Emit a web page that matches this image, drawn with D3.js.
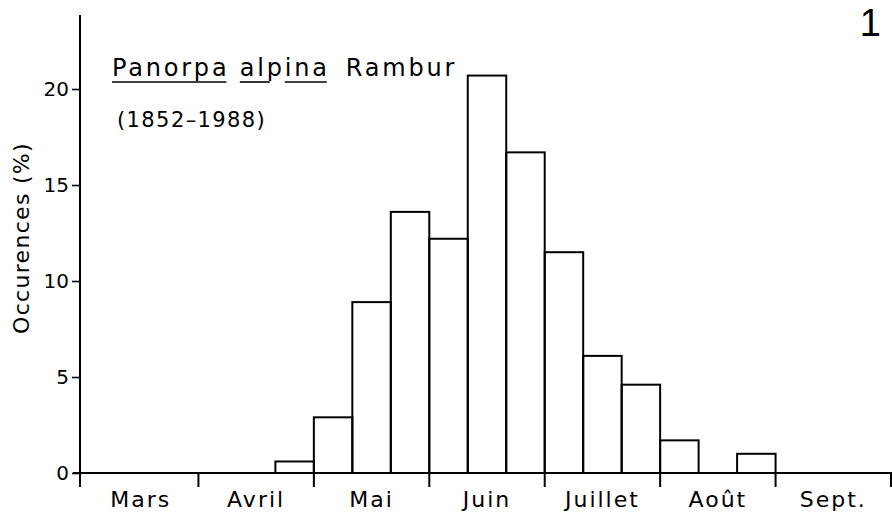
<!DOCTYPE html>
<html>
<head>
<meta charset="utf-8">
<script src="https://cdn.jsdelivr.net/npm/d3@7"></script>
<style>
  html, body { margin: 0; padding: 0; background: #fff; }
  svg { display: block; }
  text { font-family: "DejaVu Sans", sans-serif; fill: #000; }
</style>
</head>
<body>
<svg id="chart" width="892" height="513"></svg>
<script>
// ---- data ----
const months = ["Mars", "Avril", "Mai", "Juin", "Juillet", "Août", "Sept."];
const decades = ["1", "2", "3"];
const values = [
  0, 0, 0,        // Mars
  0, 0, 0.6,      // Avril
  2.9, 8.9, 13.6, // Mai
  12.2, 20.7, 16.7, // Juin
  11.5, 6.1, 4.6, // Juillet
  1.7, 0, 1.0,    // Août
  0, 0, 0         // Sept.
];
const yTicks = [0, 5, 10, 15, 20];
const titleSpecies = "Panorpa alpina";
const titleAuthor = "Rambur";
const subtitle = "(1852–1988)";
const yLabel = "Occurences (%)";
const figNumber = "1";

// ---- layout ----
const svg = d3.select("#chart");
const x0 = 83, x1 = 891, yBase = 473;

const bins = [];
months.forEach(m => decades.forEach(d => bins.push(m + "-" + d)));
const data = bins.map((b, i) => ({ bin: b, value: values[i] }));

const xBin = d3.scaleBand().domain(bins).range([x0, x1]).padding(0);
const xMonth = d3.scaleBand().domain(months).range([x0, x1]).padding(0);
const y = d3.scaleLinear().domain([0, 20]).range([yBase, 89]);

const stroke = "#000";
const sw = 2;

// bars
svg.append("g").selectAll("rect")
  .data(data.filter(d => d.value > 0))
  .join("rect")
  .attr("x", d => xBin(d.bin))
  .attr("y", d => y(d.value))
  .attr("width", xBin.bandwidth())
  .attr("height", d => y(0) - y(d.value))
  .attr("fill", "none")
  .attr("stroke", stroke)
  .attr("stroke-width", sw);

// y axis
const yAxis = d3.axisLeft(y).tickValues(yTicks).tickSize(8).tickPadding(3).tickFormat(d3.format("d"));
const gy = svg.append("g").attr("transform", `translate(${x0 - 3},0)`).call(yAxis);
gy.select(".domain").remove();
gy.selectAll(".tick line").attr("stroke", stroke).attr("stroke-width", 1.6);
gy.selectAll(".tick text").attr("font-size", 20).attr("fill", "#000").attr("dy", "0.34em");
svg.append("line").attr("x1", x0 - 3).attr("x2", x0 - 3).attr("y1", 15).attr("y2", yBase + 14)
  .attr("stroke", stroke).attr("stroke-width", 2);

// x axis line
svg.append("line").attr("x1", x0 - 10).attr("x2", x1).attr("y1", yBase).attr("y2", yBase)
  .attr("stroke", stroke).attr("stroke-width", 2);

// month boundary ticks
const bounds = months.map(m => xMonth(m)).concat([xMonth(months[months.length - 1]) + xMonth.bandwidth()]).slice(1);
svg.append("g").selectAll("line").data(bounds).join("line")
  .attr("x1", d => d).attr("x2", d => d)
  .attr("y1", yBase - 1).attr("y2", yBase + 14)
  .attr("stroke", stroke).attr("stroke-width", 2);

// month labels
const xAxis = d3.axisBottom(xMonth).tickSize(0).tickPadding(0);
const gx = svg.append("g").attr("transform", `translate(0,${yBase})`).call(xAxis);
gx.select(".domain").remove();
gx.selectAll(".tick text").attr("font-size", 22).attr("fill", "#000")
  .attr("y", 34).attr("dy", 0).style("letter-spacing", "2px");

// y label
svg.append("text")
  .attr("transform", `translate(29,238) rotate(-90)`)
  .attr("text-anchor", "middle")
  .attr("font-size", 22)
  .style("letter-spacing", "1.3px")
  .text(yLabel);

// title
const title = svg.append("text").attr("x", 112).attr("y", 76).attr("font-size", 24)
  .style("letter-spacing", "2.8px");
title.append("tspan").text(titleSpecies);
title.append("tspan").attr("dx", 16).text(titleAuthor);

// underline species name (broken at the descender of "p" in alpina)
const tnode = title.node();
function charX(i) { return tnode.getStartPositionOfChar(i).x; }
function charEnd(i) { return tnode.getEndPositionOfChar(i).x; }
const sp = titleSpecies;
const words = [];
words.push([0, sp.indexOf(" ") - 1]);
const aStart = sp.indexOf(" ") + 1;
const pIdx = sp.indexOf("p", aStart);
words.push([aStart, pIdx]);
words.push([pIdx + 1, sp.length - 1]);
svg.append("g").selectAll("line").data(words).join("line")
  .attr("x1", d => charX(d[0]))
  .attr("x2", (d, i) => i === 1 ? charX(d[1]) + 3 : charEnd(d[1]) - 3)
  .attr("y1", 82).attr("y2", 82)
  .attr("stroke", stroke).attr("stroke-width", 1.6);

svg.append("text").attr("x", 117).attr("y", 127).attr("font-size", 21)
  .style("letter-spacing", "1.4px").text(subtitle);

// figure number
svg.append("text").attr("x", 881).attr("y", 36).attr("text-anchor", "end")
  .attr("font-size", 38).style("font-family", "'Liberation Sans', Arial, sans-serif")
  .text(figNumber);
</script>
</body>
</html>
